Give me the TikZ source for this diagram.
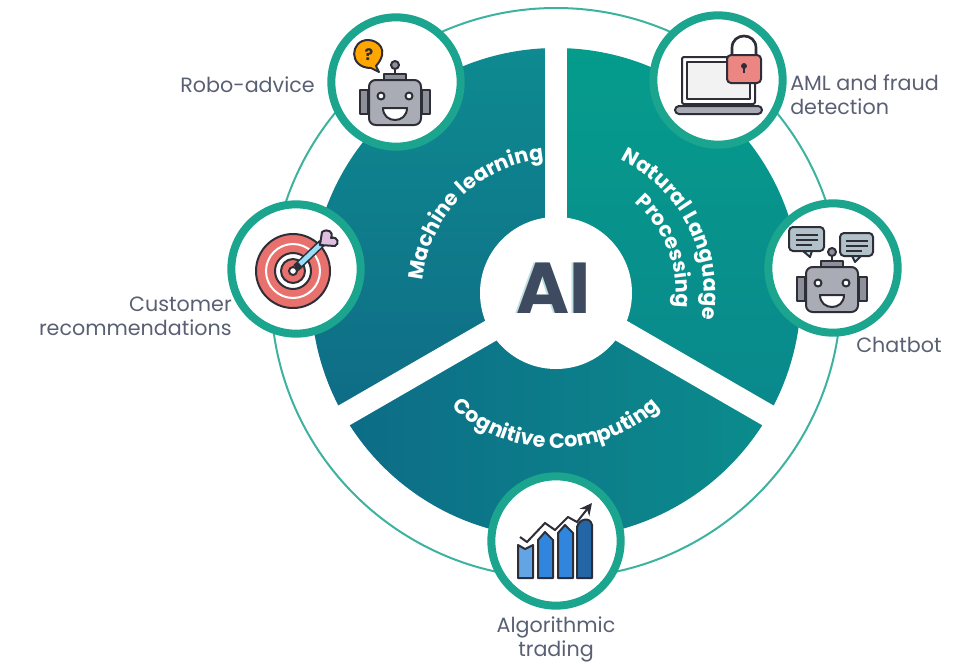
\documentclass[tikz,border=0pt]{standalone}
\usepackage{fontspec}
\setmainfont{Poppins}
\usetikzlibrary{decorations.text,arrows.meta}
\definecolor{ringgreen}{HTML}{1BA58E}
\definecolor{labelgrey}{HTML}{5A6074}
\definecolor{aidark}{HTML}{3D4A60}
\definecolor{iconline}{HTML}{2E2E38}
\definecolor{robotgrey}{HTML}{A9ABB5}
\definecolor{earsgrey}{HTML}{8E9099}
\definecolor{targetred}{HTML}{E8716D}
\definecolor{chartblue}{HTML}{2F86DC}
\tikzset{
	badge/.style={circle,draw=ringgreen,line width=6pt,fill=white,minimum size=97pt,inner sep=0pt},
	sidelabel/.style={font=\fontsize{15.5}{18}\selectfont,text=labelgrey,inner sep=0pt},
	iconstroke/.style={draw=iconline,line width=1.5pt,line join=round},
	bar/.style={iconstroke,fill=chartblue},
}
\newcommand{\arcfont}{\fontsize{15.5}{18}\selectfont\bfseries\color{white}}
\newcommand{\roboticon}[2]{%
	\begin{scope}[shift={(#1,#2)}]
		\draw[iconstroke,fill=earsgrey] (-35,-12) rectangle (-27,12);
		\draw[iconstroke,fill=earsgrey] (27,-12) rectangle (35,12);
		\draw[iconstroke,fill=earsgrey] (-11,-28) rectangle (11,-22);
		\draw[iconstroke] (0,-28) -- (0,-33);
		\draw[iconstroke,fill=earsgrey] (0,-37) circle (4);
		\draw[iconstroke,fill=robotgrey,rounded corners=5pt] (-26,-22) rectangle (26,23);
		\draw[iconstroke,fill=white] (-14,-6) circle (3.5);
		\draw[iconstroke,fill=white] (14,-6) circle (3.5);
		\draw[iconstroke,fill=white] (-12,6) -- (12,6) .. controls (12,22) and (-12,22) .. (-12,6) -- cycle;
	\end{scope}}
\begin{document}
\begin{tikzpicture}[x=0.75pt,y=0.75pt,yscale=-1,xscale=1]
	\useasboundingbox (0,0) rectangle (978,661);
	% outer ring
	\draw[ringgreen!85!white,line width=1.5pt] (556,293) circle (285);
	\begin{scope}[shift={(556,293)}]
		% three sectors
		\path[top color=teal!30!black!0!white!0!teal,shade,top color={rgb,255:red,14;green,138;blue,144},bottom color={rgb,255:red,15;green,108;blue,134}] (0,0) -- (-90:245) arc[start angle=-90,end angle=-210,radius=245] -- cycle;
		\path[shade,top color={rgb,255:red,5;green,156;blue,140},bottom color={rgb,255:red,10;green,136;blue,140}] (0,0) -- (-90:245) arc[start angle=-90,end angle=30,radius=245] -- cycle;
		\path[shade,left color={rgb,255:red,13;green,108;blue,135},right color={rgb,255:red,11;green,140;blue,140}] (0,0) -- (150:245) arc[start angle=150,end angle=30,radius=245] -- cycle;
		\foreach \gapangle in {-90,30,150} {
			\draw[white,line width=17pt] (0,0) -- (\gapangle:250);
		}
		% curved titles
		\path[decorate,decoration={text along path,text align=center,text={|\arcfont|Machine learning}}] (-225:134) arc[start angle=-225,end angle=-45,radius=134];
		\path[decorate,decoration={text along path,text align=center,text={|\arcfont|Natural Language}}] (-117:148) arc[start angle=-117,end angle=63,radius=148];
		\path[decorate,decoration={text along path,text align=center,text={|\arcfont|Processing}}] (-111:120) arc[start angle=-111,end angle=69,radius=120];
		\path[decorate,decoration={text along path,text align=center,text={|\arcfont|Cognitive Computing}}] (180:155) arc[start angle=180,end angle=0,radius=155];
	\end{scope}
	% centre
	\node[circle,fill=white,minimum size=114pt,inner sep=0pt] (centre) at (556,293) {};
	\node[font=\fontsize{54}{54}\selectfont\bfseries,text=teal!25!white,inner sep=0pt] (aishadow) at (552,288) {AI};
	\node[font=\fontsize{54}{54}\selectfont\bfseries,text=aidark,inner sep=0pt] (ai) at (554,288) {AI};
	% badges
	\node[badge] (robo) at (396,82) {};
	\node[badge] (target) at (296,269) {};
	\node[badge] (aml) at (718,80) {};
	\node[badge] (chat) at (833,268) {};
	\node[badge] (algo) at (556,541) {};
	% robo-advice icon
	\roboticon{395}{102}
	\draw[iconstroke,fill=orange!70!yellow] (371,68) -- (379,72) -- (376,66) .. controls (390,50) and (378,40) .. (368,40) .. controls (350,40) and (348,68) .. (371,68) -- cycle;
	\node[font=\fontsize{12}{12}\selectfont\bfseries,text=iconline,inner sep=0pt] (question) at (369,55) {?};
	% target icon
	\draw[iconstroke,fill=targetred] (293,271) circle (37);
	\draw[white,line width=1.5pt,fill=targetred] (293,271) circle (27);
	\draw[iconstroke,fill=white] (293,271) circle (18);
	\draw[iconstroke,fill=targetred] (293,271) circle (12);
	\draw[iconstroke,fill=white] (293,271) circle (4);
	\draw[iconline,line width=6pt] (296,268) -- (322,243);
	\draw[cyan!40!white,line width=3.6pt] (300,264) -- (320,245);
	\draw[iconstroke,fill=violet!25!white] (320,245) -- (322,232) .. controls (328,228) and (334,232) .. (331,238) .. controls (338,236) and (340,244) .. (335,246) -- cycle;
	% laptop icon
	\draw[iconstroke,fill=white,rounded corners=1.5pt] (682,57) rectangle (755,104);
	\draw[iconstroke,fill=black!5] (687,62) rectangle (750,99);
	\draw[iconstroke,fill=robotgrey,rounded corners=3pt] (675,106) rectangle (762,114);
	\draw[iconstroke,line width=2pt] (732,56) -- (732,48) .. controls (732,32) and (756,32) .. (756,48) -- (756,56);
	\draw[iconstroke,fill=targetred!85!white,rounded corners=3pt] (727,55) rectangle (761,83);
	\draw[iconline,fill=iconline] (744,66) circle (2.6);
	\draw[iconline,line width=2pt] (744,67) -- (744,73);
	% chatbot icon
	\roboticon{832}{289}
	\draw[iconstroke,fill=cyan!20!gray!60!white,rounded corners=3pt] (789,227) rectangle (824,251);
	\draw[iconstroke,fill=cyan!25!white] (803,251) -- (810,257) -- (812,251) -- cycle;
	\draw[iconline,line width=1.2pt] (796,235) -- (818,235) (796,240) -- (818,240) (796,245) -- (812,245);
	\draw[iconstroke,fill=cyan!20!gray!60!white,rounded corners=3pt] (840,233) rectangle (873,256);
	\draw[iconstroke,fill=cyan!25!white] (852,256) -- (855,262) -- (861,256) -- cycle;
	\draw[iconline,line width=1.2pt] (846,241) -- (868,241) (846,246) -- (868,246) (846,251) -- (862,251);
	% chart icon
	\draw[bar,fill=chartblue!75!white] (518,578) -- (518,545) -- (525,549) -- (533,545) -- (533,578) -- cycle;
	\draw[bar] (538,578) -- (538,540) -- (545,532) -- (553,540) -- (553,578) -- cycle;
	\draw[bar] (558,578) -- (558,533) -- (565,525) -- (573,533) -- (573,578) -- cycle;
	\draw[bar,fill=chartblue!75!black] (577,578) -- (577,527) .. controls (579,519) and (590,516) .. (592,525) -- (592,578) -- cycle;
	\draw[iconline,line width=1.5pt,-{Stealth[length=9pt,width=9pt]}] (520,537) -- (527,542) -- (545,523) -- (555,530) -- (568,517) -- (577,522) -- (592,503);
	% labels
	\node[sidelabel,anchor=east] (robolabel) at (315,85) {Robo-advice};
	\node[sidelabel,anchor=west,align=left] (amllabel) at (790,95) {AML and fraud\\detection};
	\node[sidelabel,anchor=east,align=right] (targetlabel) at (232,316) {Customer\\recommendations};
	\node[sidelabel,anchor=west] (chatlabel) at (856,345) {Chatbot};
	\node[sidelabel,align=center] (algolabel) at (556,639) {Algorithmic\\trading};
\end{tikzpicture}
\end{document}
